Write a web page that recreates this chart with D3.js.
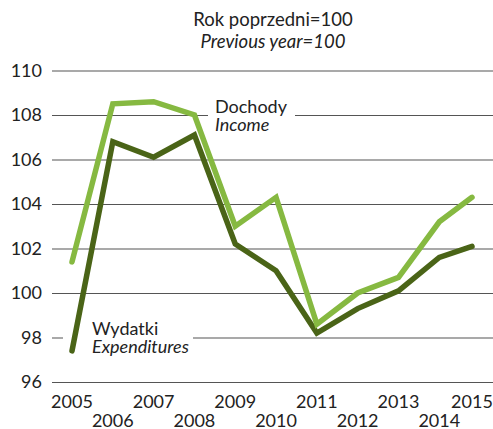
<!DOCTYPE html>
<html><head><meta charset="utf-8">
<script src="https://cdn.jsdelivr.net/npm/d3@7"></script>
<style>
html,body{margin:0;padding:0;background:#fff;}
svg{display:block;font-family:Lato,"Open Sans",sans-serif;}
</style></head>
<body>
<svg id="chart" width="493" height="429"></svg>
<script>
const years = [2005,2006,2007,2008,2009,2010,2011,2012,2013,2014,2015];
const income = [101.4,108.5,108.6,108.0,103.0,104.3,98.6,100.0,100.7,103.2,104.3];
const expenditures = [97.4,106.8,106.1,107.1,102.2,101.0,98.2,99.3,100.1,101.6,102.1];
const yTicks = [96,98,100,102,104,106,108,110];
const titleLines = ["Rok poprzedni=100","Previous year=100"];
const incomeLabel = ["Dochody","Income"];
const expLabel = ["Wydatki","Expenditures"];

const svg = d3.select("#chart");
const x = d3.scaleLinear().domain([2005,2014,2015]).range([72,439.3,472]);
const y = d3.scaleLinear().domain([96,110]).range([382,70.5]);

// title
svg.append("text").attr("x",273).attr("y",26).attr("text-anchor","middle")
  .attr("font-size",18.5).attr("fill","#222").text(titleLines[0]);
svg.append("text").attr("x",273).attr("y",48).attr("text-anchor","middle")
  .attr("font-size",18.5).attr("font-style","italic").attr("fill","#222").text(titleLines[1]);

// gridlines
const yAxis = d3.axisLeft(y).tickValues(yTicks).tickSize(-(493-52)).tickPadding(10);
const gy = svg.append("g").attr("transform","translate(52,0)").call(yAxis);
gy.select(".domain").remove();
gy.selectAll(".tick line").attr("stroke","#555").attr("stroke-width",1.2);
gy.selectAll(".tick text").attr("font-size",18).attr("fill","#222")
  .attr("font-family","Lato,sans-serif").attr("x",-10);

// legend backgrounds (behind lines)
svg.append("rect").attr("x",208).attr("y",95).attr("width",87).attr("height",42).attr("fill","#fff");
svg.append("rect").attr("x",63).attr("y",318).attr("width",130).attr("height",40).attr("fill","#fff");

// x labels
const gx = svg.append("g");
years.forEach((yr,i)=>{
  gx.append("text").attr("x",x(yr)).attr("y", i%2===0 ? 408 : 427)
    .attr("text-anchor","middle").attr("font-size",18).attr("fill","#222").text(yr);
});

const line = d3.line().x((d,i)=>x(years[i])).y(d=>y(d));
svg.append("path").datum(expenditures).attr("d",line).attr("fill","none")
  .attr("stroke","#4a6417").attr("stroke-width",5.5).attr("stroke-linejoin","miter").attr("stroke-linecap","round");
svg.append("path").datum(income).attr("d",line).attr("fill","none")
  .attr("stroke","#86b941").attr("stroke-width",5.5).attr("stroke-linejoin","miter").attr("stroke-linecap","round");

// labels
svg.append("text").attr("x",215).attr("y",113).attr("font-size",18).attr("fill","#222").text(incomeLabel[0]);
svg.append("text").attr("x",215).attr("y",131).attr("font-size",18).attr("font-style","italic").attr("fill","#222").text(incomeLabel[1]);
svg.append("text").attr("x",92).attr("y",335).attr("font-size",18).attr("fill","#222").text(expLabel[0]);
svg.append("text").attr("x",92).attr("y",353).attr("font-size",18).attr("font-style","italic").attr("fill","#222").text(expLabel[1]);
</script>
</body></html>
